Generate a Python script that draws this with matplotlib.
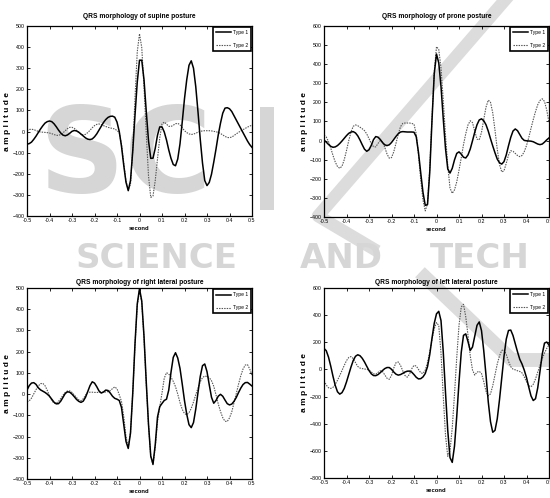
import numpy as np
import matplotlib
matplotlib.use("Agg")
import matplotlib.pyplot as plt
from matplotlib.lines import Line2D
from matplotlib.patches import Rectangle

# time axis (seconds), sampled every 0.01 s
seconds = np.round(np.arange(-50, 51) / 100.0, 2)

supine_type1 = [
    -60, -57, -50, -37, -22, -5, 12, 27, 40, 47,
    50, 47, 37, 23, 7, -7, -17, -20, -16, -8,
    1, 5, 3, -3, -12, -21, -30, -36, -38, -35,
    -25, -11, 7, 25, 43, 57, 67, 72, 73, 68,
    45, 0, -70, -160, -240, -280, -232, -92, 77, 234,
    338, 338, 246, 96, -43, -127, -126, -79, -17, 22,
    22, -2, -40, -87, -127, -156, -162, -130, -58, 46,
    156, 246, 314, 335, 300, 213, 93, -37, -149, -232,
    -256, -241, -202, -145, -83, -16, 40, 87, 111, 113,
    108, 95, 75, 55, 35, 15, -5, -25, -45, -62, -75]
supine_type2 = [
    5, 10, 11, 9, 5, 1, -2, -3, -4, -5,
    -7, -10, -14, -18, -18, -14, -6, 4, 14, 20,
    20, 15, 6, -4, -12, -16, -13, -5, 6, 18,
    28, 34, 36, 33, 28, 24, 20, 17, 15, 12,
    5, -5, -60, -150, -235, -275, -250, -87, 160, 377,
    463, 398, 212, -7, -210, -312, -305, -232, -129, -30,
    36, 45, 35, 25, 24, 30, 37, 39, 32, 18,
    4, -5, -11, -14, -12, -8, -3, 1, 3, 4,
    4, 4, 3, 1, -1, -4, -9, -16, -23, -28,
    -29, -26, -19, -11, -4, 3, 9, 15, 21, 26, 30]

prone_type1 = [
    3, -8, -20, -30, -35, -33, -26, -15, -2, 12,
    26, 38, 45, 47, 40, 25, 3, -22, -45, -56,
    -48, -25, 5, 21, 18, 6, -10, -22, -26, -22,
    -10, 6, 22, 36, 45, 47, 46, 45, 45, 45,
    44, 20, -63, -170, -272, -339, -335, -166, 107, 350,
    453, 407, 284, 115, -41, -148, -170, -145, -101, -67,
    -59, -71, -87, -91, -75, -44, -1, 44, 83, 108,
    114, 104, 83, 50, 10, -28, -64, -97, -116, -123,
    -110, -75, -27, 17, 50, 61, 52, 32, 12, 1,
    -1, -2, -3, -6, -12, -18, -21, -18, -8, 4, 14]
prone_type2 = [
    28, 19, -5, -39, -78, -112, -136, -145, -134, -100,
    -52, 0, 45, 75, 82, 78, 70, 62, 52, 35,
    10, -15, -32, -33, -15, 0, -8, -35, -70, -92,
    -89, -59, -14, 33, 73, 90, 92, 92, 92, 90,
    86, 35, -76, -205, -312, -368, -330, -145, 118, 360,
    492, 477, 380, 212, 27, -130, -248, -276, -258, -216,
    -155, -90, -21, 36, 82, 104, 94, 49, 8, 4,
    43, 111, 175, 212, 201, 145, 54, -45, -125, -164,
    -158, -119, -76, -53, -56, -67, -78, -84, -78, -58,
    -26, 16, 64, 110, 152, 188, 210, 219, 205, 160, 95]

right_type1 = [
    19, 40, 52, 54, 46, 30, 20, 14, 8, 0,
    -10, -24, -38, -46, -45, -33, -15, 3, 11, 9,
    0, -12, -25, -34, -39, -33, -15, 12, 40, 58,
    52, 35, 15, 5, 10, 19, 17, 5, -10, -20,
    -24, -30, -63, -143, -223, -256, -184, 4, 237, 425,
    497, 439, 273, 57, -142, -292, -330, -238, -108, -59,
    -44, -30, -24, 19, 103, 173, 195, 170, 121, 47,
    -31, -95, -144, -158, -134, -71, 8, 83, 134, 142,
    106, 44, -15, -43, -30, -10, -1, -10, -28, -45,
    -51, -47, -34, -16, 7, 28, 45, 54, 55, 47, 38]
right_type2 = [
    -36, -32, -19, 1, 21, 38, 49, 51, 40, 18,
    -8, -30, -43, -43, -34, -21, -5, 8, 15, 15,
    8, -4, -16, -27, -31, -22, -5, 8, 9, 9,
    8, 8, 8, 8, 9, 10, 12, 16, 26, 34,
    25, -3, -35, -105, -200, -250, -180, 5, 232, 416,
    490, 432, 265, 50, -145, -294, -333, -250, -130, -60,
    5, 75, 101, 95, 80, 60, 35, 0, -40, -72,
    -92, -97, -88, -67, -37, -3, 28, 58, 78, 85,
    83, 78, 63, 37, -3, -46, -82, -111, -128, -129,
    -112, -84, -41, 2, 46, 86, 118, 137, 139, 118, 90]

left_type1 = [
    155, 138, 91, 24, -51, -118, -165, -182, -171, -140,
    -92, -37, 18, 66, 97, 108, 101, 82, 55, 23,
    -8, -32, -45, -46, -38, -24, -8, 6, 14, 14,
    1, -19, -35, -42, -38, -29, -19, -13, -12, -20,
    -38, -58, -70, -68, -55, -30, 20, 110, 230, 340,
    410, 428, 360, 130, -170, -450, -650, -685, -565, -345,
    -95, 126, 251, 262, 205, 140, 165, 245, 325, 350,
    286, 138, -42, -238, -385, -463, -449, -364, -223, -63,
    97, 223, 287, 290, 250, 190, 130, 75, 40, -5,
    -60, -130, -195, -229, -216, -135, -13, 113, 194, 202, 180]
left_type2 = [
    -83, -115, -135, -140, -132, -110, -80, -45, -8, 30,
    65, 88, 95, 80, 50, 22, 10, 6, 3, 1,
    -5, -18, -32, -35, -22, -10, -15, -40, -65, -73,
    -45, 10, 50, 55, 30, -10, -45, -57, -35, 5,
    30, 25, 0, -25, -30, -5, 50, 130, 220, 300,
    345, 324, 120, -197, -485, -640, -599, -430, -182, 88,
    325, 460, 480, 388, 252, 100, -4, -42, -20, -14,
    -30, -90, -160, -195, -180, -120, -40, 40, 100, 140,
    145, 110, 60, 20, 2, -3, -10, -15, -25, -55,
    -90, -120, -128, -110, -70, -20, 30, 80, 120, 155, 180]

titles = ["QRS morphology of supine posture", "QRS morphology of prone posture",
          "QRS morphology of right lateral posture", "QRS morphology of left lateral posture"]
series = [(supine_type1, supine_type2), (prone_type1, prone_type2),
          (right_type1, right_type2), (left_type1, left_type2)]
ylims = [(-400, 500), (-400, 600), (-400, 500), (-800, 600)]
ysteps = [100, 100, 100, 200]
xtick_vals = [-0.5, -0.4, -0.3, -0.2, -0.1, 0, 0.1, 0.2, 0.3, 0.4, 0.5]
xtick_labels = ["-0.5", "-0.4", "-0.3", "-0.2", "-0.1", "0", "0.1", "0.2", "0.3", "0.4", "0.5"]
legend_labels = ["Type 1", "Type 2"]

W, H = 550, 498
fig = plt.figure(figsize=(W / 100, H / 100), dpi=100)
fig.patch.set_facecolor("white")
plt.rcParams["font.family"] = ["Liberation Sans", "DejaVu Sans"]


def fx(px):
    return px / W


def fy(py):
    return 1 - py / H


# light publisher watermark in the background
wm = "#d6d6d6"
wm2 = "#dcdcdc"
fig.text(fx(38), fy(192), "SC", fontsize=86, fontweight="bold", color=wm,
         family="DejaVu Sans", ha="left", va="baseline", zorder=-5)
for word, x0 in [("SCIENCE", 75), ("AND", 300), ("TECH", 430)]:
    fig.text(fx(x0), fy(268), word, fontsize=24.5, fontweight="bold", color=wm,
             family="DejaVu Sans", ha="left", va="baseline", zorder=-5)
fig.add_artist(Rectangle((fx(260), fy(210)), 14 / W, 103 / H, transform=fig.transFigure,
                         facecolor=wm, edgecolor="none", zorder=-5))
fig.add_artist(Line2D([fx(505), fx(318), fx(372)], [fy(0), fy(216), fy(248)],
                      transform=fig.transFigure, color=wm2, lw=9,
                      solid_joinstyle="round", zorder=-5))
fig.add_artist(Line2D([fx(425), fx(512), fx(552)], [fy(277), fy(360), fy(360)],
                      transform=fig.transFigure, color=wm2, lw=10,
                      solid_joinstyle="round", zorder=-5))

boxes = [(27, 26, 190), (324, 26, 191), (27, 288, 191), (324, 288, 190)]
title_pads = [5.5, 5.5, 2.6, 2.6]

for i, (l, t, h) in enumerate(boxes):
    ax = fig.add_axes([l / W, 1 - (t + h) / H, 225 / W, h / H])
    ax.set_facecolor("none")
    y1, y2 = series[i]
    ax.plot(seconds, y1, color="black", lw=1.1, label=legend_labels[0], zorder=3)
    ax.plot(seconds, y2, color="#555555", lw=0.8, linestyle=(0, (1.3, 1.0)),
            label=legend_labels[1], zorder=2)
    ax.set_xlim(-0.5, 0.5)
    lo, hi = ylims[i]
    ax.set_ylim(lo, hi)
    ax.set_yticks(np.arange(lo, hi + 1, ysteps[i]))
    ax.set_xticks(xtick_vals)
    ax.set_xticklabels(xtick_labels)
    ax.tick_params(direction="in", top=True, right=True, length=2.5, width=0.6,
                   labelsize=3.8, pad=1.5)
    for sp in ax.spines.values():
        sp.set_linewidth(0.9)
    ax.set_title(titles[i], fontsize=4.8, fontweight="bold", pad=title_pads[i])
    ax.set_xlabel("second", fontsize=4.2, fontweight="bold", labelpad=2)
    ax.set_ylabel("a m p l i t u d e", fontsize=6, fontweight="bold", labelpad=1.5)
    leg = ax.legend(loc="upper right", fontsize=3.6, frameon=True, fancybox=False,
                    borderaxespad=0.25, handlelength=3.0, handletextpad=0.4,
                    labelspacing=1.6, borderpad=0.6)
    leg.get_frame().set_edgecolor("black")
    leg.get_frame().set_linewidth(1.2)
    leg.get_frame().set_alpha(1)

fig.savefig("out.png", dpi=100, facecolor="white")
